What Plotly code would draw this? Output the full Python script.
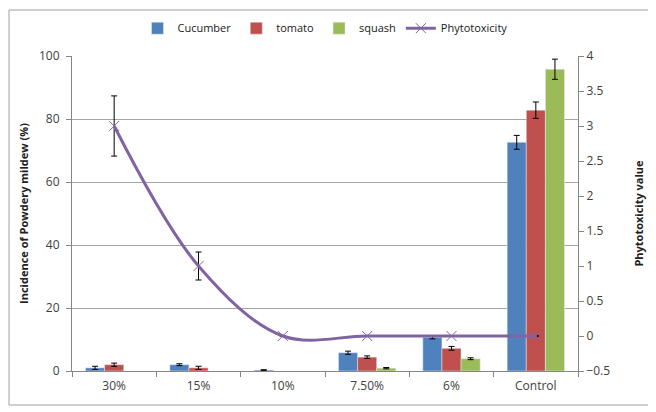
import plotly.graph_objects as go

categories = ['30%', '15%', '10%', '7.50%', '6%', 'Control']

cucumber = [1.0, 2.0, 0.3, 5.8, 10.7, 72.6]
cucumber_err = [0.5, 0.3, 0.1, 0.5, 0.5, 2.2]
tomato = [2.0, 1.0, None, 4.4, 7.2, 82.8]
tomato_err = [0.5, 0.5, None, 0.4, 0.6, 2.6]
squash = [None, None, None, 0.9, 3.9, 95.8]
squash_err = [None, None, None, 0.2, 0.3, 3.2]

phyto = [3, 1, 0, 0, 0, 0]
phyto_err = [0.43, 0.2, None, None, None, None]

font = 'Open Sans'
err_style = dict(type='data', visible=True, color='black', thickness=1, width=3)

fig = go.Figure()
fig.add_trace(go.Bar(x=categories, y=cucumber, name='Cucumber', marker_color='#4F81BD',
                     error_y=dict(array=cucumber_err, **err_style)))
fig.add_trace(go.Bar(x=categories, y=tomato, name='tomato', marker_color='#C0504D',
                     error_y=dict(array=tomato_err, **err_style)))
fig.add_trace(go.Bar(x=categories, y=squash, name='squash', marker_color='#9BBB59',
                     error_y=dict(array=squash_err, **err_style)))
fig.add_trace(go.Scatter(x=categories, y=phyto, name='Phytotoxicity', yaxis='y2',
                         mode='lines+markers',
                         line=dict(color='#8064A2', width=3, shape='spline', smoothing=1.0),
                         marker=dict(symbol='x-thin', size=10,
                                     line=dict(color='#8064A2', width=1)),
                         error_y=dict(array=phyto_err, **err_style)))

fig.update_layout(
    width=656, height=412,
    margin=dict(l=64, r=86, t=48, b=49, autoexpand=False),
    paper_bgcolor='white', plot_bgcolor='white',
    font=dict(family=font, size=12, color='#404040'),
    barmode='group', bargap=0.32, bargroupgap=0,
    legend=dict(orientation='h', x=0.5, xanchor='center',
                yref='container', y=0.951, yanchor='middle',
                bgcolor='rgba(0,0,0,0)',
                font=dict(size=11, color='#202020'), itemwidth=30,
                traceorder='normal'),
    xaxis=dict(showline=True, linecolor='#868686', ticks='outside', tickcolor='#868686',
               ticklen=5, tickson='boundaries', showgrid=False, ticklabelstandoff=4),
    yaxis=dict(range=[0, 100], dtick=20, showline=True, linecolor='#868686',
               ticks='outside', tickcolor='#868686', ticklen=5, ticklabelstandoff=4,
               gridcolor='#A6A6A6', gridwidth=1, zeroline=False,
               title=dict(text='<b>Incidence of Powdery mildew (%)</b>',
                          font=dict(size=11, color='#202020'), standoff=8)),
    yaxis2=dict(range=[-0.5, 4], dtick=0.5, overlaying='y', side='right',
                showline=True, linecolor='#868686', ticks='outside', tickcolor='#868686',
                ticklen=5, showgrid=False, zeroline=False,
                title=dict(text='<b>Phytotoxicity value</b>',
                           font=dict(size=11, color='#202020'), standoff=26)),
)

# chart-area border
fig.add_shape(type='rect', xref='paper', yref='paper',
              x0=-63 / 506, x1=578 / 506, y0=-34 / 315, y1=46 / 315 + 1,
              line=dict(color='#A0A0A0', width=1))

fig.write_html("out.html")
